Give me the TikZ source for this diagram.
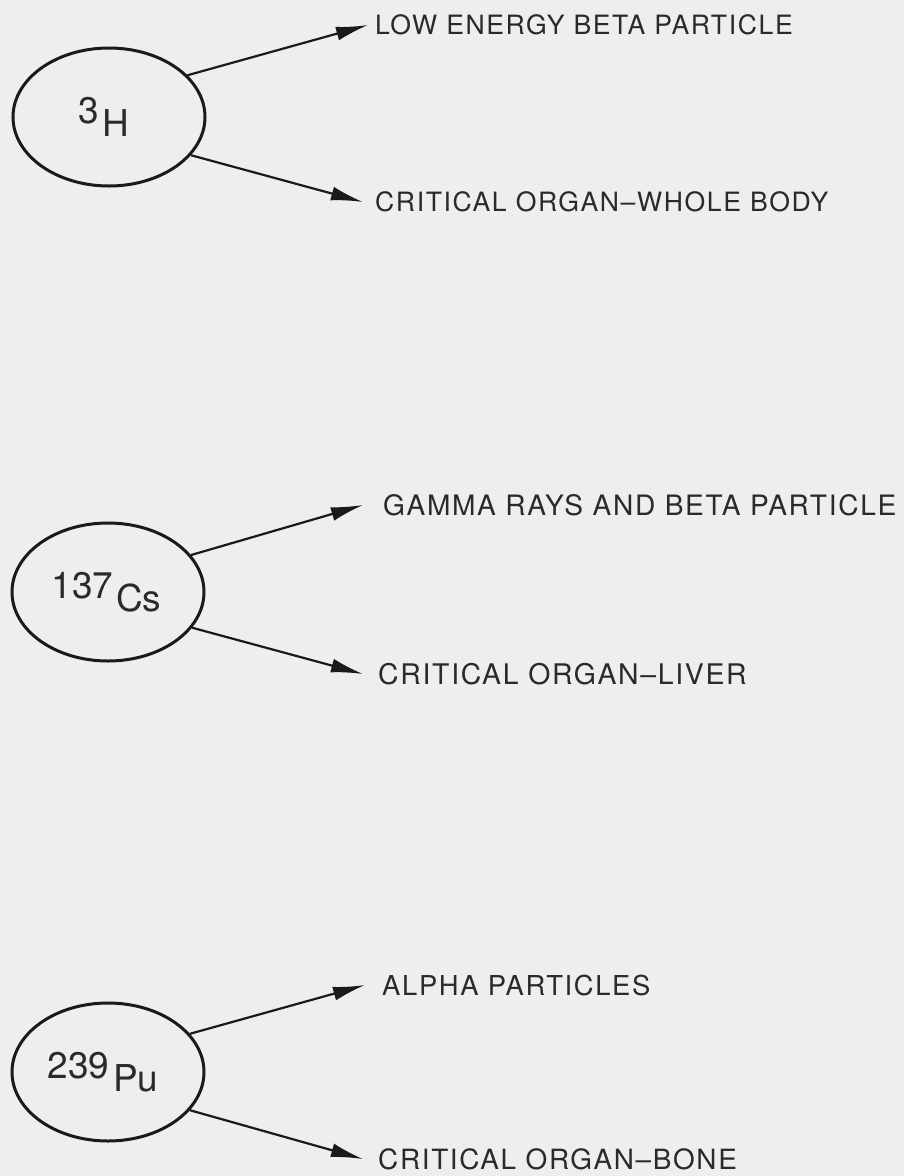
\documentclass[tikz,border=0pt]{standalone}
\usepackage{fontspec}
\setmainfont{TeX Gyre Heros}
\newfontfamily\lblfont[LetterSpace=6]{TeX Gyre Heros}
\usetikzlibrary{shapes.geometric,arrows.meta}
\definecolor{bgc}{HTML}{EEEEEE}
\definecolor{ink}{HTML}{1A1A1A}
\definecolor{txt}{HTML}{2A2A2A}
\begin{document}
\begin{tikzpicture}[x=1pt,y=-1pt,
  nucleus/.style={ellipse, draw=ink, line width=3pt, minimum width=192pt, minimum height=138pt, inner sep=0pt, text=txt, font=\fontsize{37}{40}\selectfont},
  ray/.style={draw=ink, line width=2.2pt, -{Latex[length=32pt,width=14pt]}},
  desc/.style={anchor=west, inner ysep=0pt, text=txt, font=\lblfont\fontsize{#1}{#1}\selectfont}]
\fill[bgc] (0,0) rectangle (904,1176);
\useasboundingbox (0,0) rectangle (904,1176);
% Tritium
\node[nucleus] (h) at (109,117) {\raisebox{13pt}{3}\kern4pt H\kern10pt};
\node[desc=26.6, inner xsep=7pt] (h1) at (368,25) {LOW ENERGY BETA PARTICLE};
\node[desc=26.6, inner xsep=12pt] (h2) at (363,202) {CRITICAL ORGAN\textendash WHOLE BODY};
\draw[ray] (h.28.6) -- (h1.west);
\draw[ray] (h.-25.7) -- (h2.west);
% Cesium
\node[nucleus] (cs) at (108,592) {\raisebox{13pt}{137}\kern3pt Cs\kern3pt};
\node[desc=28.1, inner xsep=20pt] (cs1) at (363,505) {GAMMA RAYS AND BETA PARTICLE};
\node[desc=28.4, inner xsep=15pt] (cs2) at (363,674) {CRITICAL ORGAN\textendash LIVER};
\draw[ray] (cs.24.3) -- (cs1.west);
\draw[ray] (cs.-23.2) -- (cs2.west);
% Plutonium
\node[nucleus] (pu) at (108,1072) {\raisebox{13pt}{239}\kern4pt Pu\kern10pt};
\node[desc=27.4, inner xsep=17pt] (pu1) at (365,985) {ALPHA PARTICLES};
\node[desc=27.9, inner xsep=15pt] (pu2) at (363,1159) {CRITICAL ORGAN\textendash BONE};
\draw[ray] (pu.25.4) -- (pu1.west);
\draw[ray] (pu.-25.7) -- (pu2.west);
\end{tikzpicture}
\end{document}
